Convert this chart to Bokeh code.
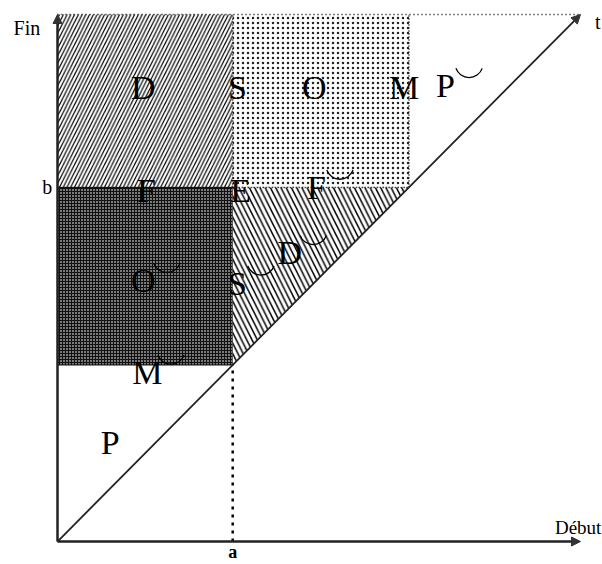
import numpy as np
from bokeh.plotting import figure
from bokeh.models import Arrow, NormalHead, Range1d, ColumnDataSource
from bokeh.core.properties import value
from bokeh.embed import file_html
from bokeh.resources import INLINE

# Interval bounds (data units)
A = 3.35      # start of reference interval "a"
B = 6.72      # end of reference interval "b"
T = 10.0      # extent of the time axes

# Region / boundary labels (Allen relations)
region_labels = ["D", "S", "O", "M", "P", "F", "E", "F", "D", "O", "S", "M", "P"]
region_converse = [False, False, False, False, True, False, False, True, True, True, True, True, False]
label_x = [1.64, 3.44, 4.91, 6.63, 7.42, 1.70, 3.50, 4.95, 4.44, 1.64, 3.44, 1.72, 1.01]
label_y = [8.62, 8.62, 8.62, 8.62, 8.65, 6.66, 6.66, 6.72, 5.48, 4.95, 4.90, 3.21, 1.88]

SERIF = value("Liberation Serif")

p = figure(width=602, height=564,
           x_range=Range1d(-1.090, 10.421), y_range=Range1d(-0.436, 10.266),
           x_axis_type=None, y_axis_type=None,
           output_backend="svg", toolbar_location=None, min_border=0)
p.grid.visible = False
p.outline_line_color = None

# D region (hatched ///)
p.quad(left=[0], right=[A], bottom=[B], top=[T], fill_color="white",
       hatch_pattern="/", hatch_scale=7.5, hatch_weight=1.2, hatch_color="black", line_color=None)
# S O M region (dotted)
p.quad(left=[A], right=[B], bottom=[B], top=[T], fill_color="white",
       hatch_pattern=".", hatch_scale=5, hatch_weight=1.2, hatch_color="#222", line_color=None)
# O~ region (dark cross hatch)
p.quad(left=[0], right=[A], bottom=[A], top=[B], fill_color="#7a7a7a",
       hatch_pattern="+", hatch_scale=3, hatch_weight=1, hatch_color="#111",
       line_color="black", line_width=1)
# D~ triangle (hatched \\\)
p.patch([A, A, B], [A, B, B], fill_color="white",
        hatch_pattern="\\", hatch_scale=10.5, hatch_weight=1.5, hatch_color="black", line_color=None)

# boundary lines
p.line([0, T], [T, T], line_color="black", line_dash="1 3", line_width=1.5)
p.line([A, A], [B, T], line_color="black", line_dash="1 2", line_width=1.5)
p.line([B, B], [B, T], line_color="black", line_dash="1 2", line_width=1.5)
p.line([A, B], [B, B], line_color="black", line_dash="1 2", line_width=1.5)
p.line([A, A], [0, A], line_color="black", line_dash="3 5", line_width=2.5)

# axes and diagonal as arrows
for (xs, ys, xe, ye, w) in [(0, 0, 0, T, 2.5), (0, 0, T, 0, 2.5), (0, 0, T, T, 1.8)]:
    p.add_layout(Arrow(end=NormalHead(size=9, fill_color="#333", line_color="#333"),
                       x_start=xs, y_start=ys, x_end=xe, y_end=ye,
                       line_width=w, line_color="#222"))

# region labels
src = ColumnDataSource(dict(x=label_x, y=label_y, t=region_labels))
p.text(x="x", y="y", text="t", source=src, text_font=SERIF, text_font_size="34px",
       text_align="center", text_baseline="middle", text_color="black")

# breve marks for converse relations
bx = [x + 0.45 for x, c in zip(label_x, region_converse) if c]
by = [y + 0.42 for y, c in zip(label_y, region_converse) if c]
p.arc(x=bx, y=by, radius=14, radius_units="screen", start_angle=3.49, end_angle=5.93,
      line_color="black", line_width=1.3)

# axis texts
p.text(x=[-0.84], y=[9.75], text=["Fin"], text_font=SERIF, text_font_size="20px",
       text_align="left", text_baseline="middle")
p.text(x=[10.33], y=[9.85], text=["t"], text_font=SERIF, text_font_size="20px",
       text_align="center", text_baseline="middle")
p.text(x=[10.40], y=[0.27], text=["Début"], text_font=SERIF, text_font_size="19px",
       text_align="right", text_baseline="middle")
p.text(x=[A], y=[-0.20], text=["a"], text_font=SERIF, text_font_size="18px",
       text_font_style="bold", text_align="center", text_baseline="middle")
p.text(x=[-0.1], y=[B], text=["b"], text_font=SERIF, text_font_size="20px",
       text_align="right", text_baseline="middle")

open("out.html", "w").write(file_html(p, INLINE))
